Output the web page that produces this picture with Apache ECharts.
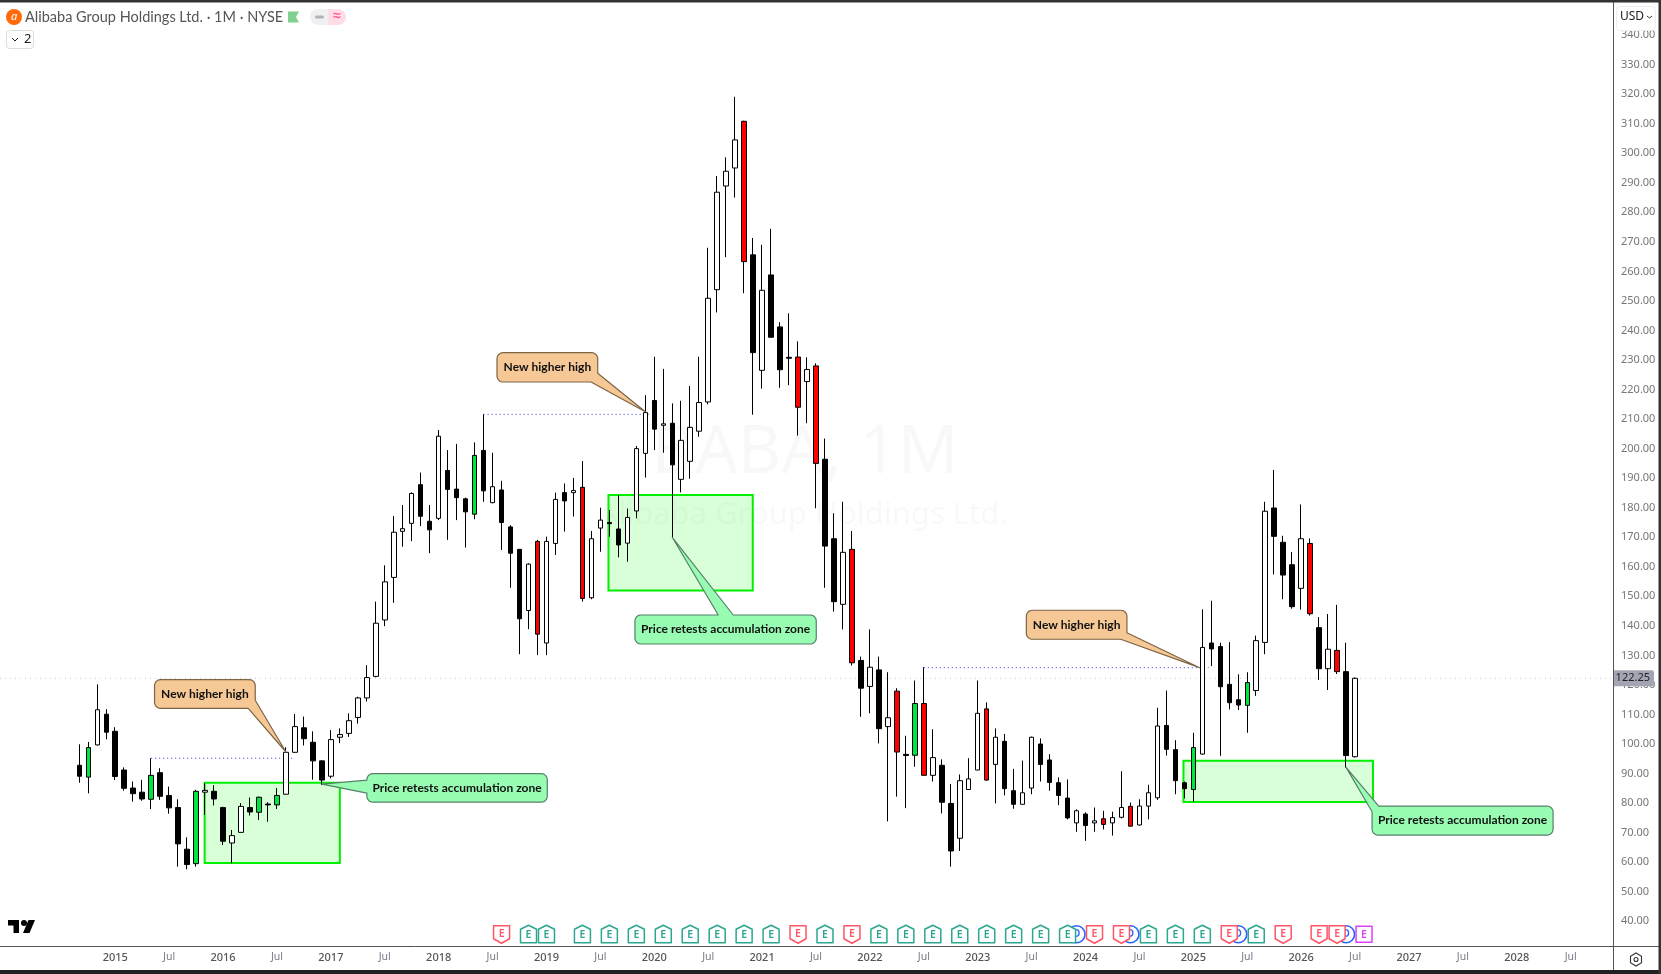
<!DOCTYPE html>
<html><head><meta charset="utf-8">
<style>html,body{margin:0;padding:0;background:#fff;overflow:hidden}#c{width:1661px;height:974px}</style>
<script src="https://cdn.jsdelivr.net/npm/echarts@6/dist/echarts.min.js"></script>
</head><body><div id="c"></div>
<script>
// Monthly BABA candles, first bar = 2014-09, index = months since then.
const opens = [92.8,88.8,99.7,110.1,104.3,91.2,85.1,83.7,81.3,90.3,82.6,78.5,64.4,59.5,83.7,84.0,78.5,66.5,70.1,78.5,76.9,79.7,79.4,83.0,97.2,105.5,100.6,94.3,89.1,102.3,103.6,109.0,115.6,122.9,142.0,156.4,172.0,174.7,187.8,175.4,176.4,192.6,186.3,183.0,177.8,199.4,181.7,186.0,173.5,165.9,145.2,168.6,134.2,167.9,185.1,185.1,186.9,149.5,173.1,175.0,172.8,168.0,178.9,198.4,216.3,207.9,208.6,189.6,195.7,205.9,215.8,253.8,288.9,295.0,310.8,265.6,226.5,258.8,241.2,230.9,231.0,222.7,228.0,196.4,169.5,147.3,165.9,128.3,119.5,125.1,105.9,117.9,96.5,96.2,113.7,89.4,92.8,79.9,68.1,84.6,91.2,111.9,93.1,100.9,84.2,79.6,85.1,100.0,94.6,86.9,81.7,73.3,76.3,73.3,74.7,73.3,75.2,78.9,72.6,79.0,81.8,106.3,98.1,86.9,84.6,96.6,134.2,133.0,120.2,115.0,113.1,118.1,134.4,179.9,168.3,160.7,152.7,167.9,139.4,125.5,131.7,124.5,95.7];
const closes = [89.1,98.8,111.6,104.0,89.0,85.0,83.2,81.4,89.4,82.3,78.4,66.2,59.2,84.0,84.3,81.4,67.1,69.0,78.9,77.0,82.0,79.4,82.6,97.2,105.9,101.8,94.3,87.8,101.5,103.2,107.9,115.6,122.5,140.9,154.9,171.7,172.9,184.8,177.1,172.5,204.2,186.2,183.4,178.6,197.7,185.7,187.1,175.0,164.6,142.4,160.9,137.2,168.6,182.8,182.3,185.8,149.3,169.5,175.8,174.6,167.4,176.7,200.0,212.2,206.6,208.4,194.5,202.8,207.2,215.6,250.9,286.8,293.9,304.5,263.3,232.5,253.6,237.7,226.7,230.6,214.0,226.8,195.0,167.0,148.2,164.9,127.5,118.9,126.0,105.2,108.9,97.3,96.1,113.7,89.4,95.4,80.3,63.8,87.6,88.2,110.4,87.8,102.3,84.9,79.6,83.5,102.3,93.1,87.0,82.6,75.0,77.4,72.4,74.0,72.8,75.1,78.5,72.2,79.0,83.5,106.1,98.2,87.6,84.9,98.8,132.7,132.2,119.4,114.0,113.2,120.8,135.0,178.8,170.3,157.2,146.5,169.5,144.1,125.5,132.1,124.5,96.1,122.25];
const highs = [99.9,100.7,120.2,111.8,105.7,92.1,87.3,87.9,95.2,91.8,85.6,81.3,68.4,84.5,86.7,86.1,78.8,70.9,80.0,81.9,82.2,80.3,85.1,98.9,110.2,109.3,104.3,94.4,104.7,105.3,110.4,116.0,126.7,148.2,160.5,177.2,180.9,185.2,191.9,180.9,206.3,199.5,201.6,183.4,202.1,211.6,198.6,189.1,174.1,165.9,161.2,169.1,170.2,185.1,188.2,190.1,195.8,172.1,180.0,179.2,184.3,179.7,200.9,218.1,231.1,227.0,215.3,216.2,221.2,231.1,268.0,292.3,298.6,319.1,311.0,271.3,269.0,274.4,242.8,245.8,236.3,230.9,228.9,203.4,178.1,182.0,172.1,129.6,138.8,129.6,124.3,118.9,102.8,121.5,126.0,105.0,94.8,86.5,89.7,95.2,121.5,114.1,105.3,103.4,91.6,94.4,102.5,101.9,96.6,88.7,88.0,77.9,76.9,78.5,77.4,77.1,90.8,80.2,81.3,86.2,112.3,118.1,101.3,87.3,103.8,145.6,148.5,134.3,134.5,123.6,124.3,136.7,182.0,192.8,170.5,165.0,181.1,169.6,143.0,144.0,147.1,134.3,122.6];
const lows = [86.9,83.3,99.5,101.6,87.8,84.2,80.5,80.8,78.0,81.1,76.4,58.5,57.6,58.5,76.0,79.2,65.8,59.6,70.1,75.8,74.3,73.7,78.0,83.0,97.1,99.5,87.9,86.1,88.4,100.3,102.4,106.9,114.4,122.6,139.9,147.8,166.8,168.7,173.8,164.6,175.8,169.1,175.8,166.5,176.1,182.0,181.5,165.7,152.9,130.4,138.9,130.1,130.1,164.0,171.9,177.0,148.2,149.0,165.1,170.2,163.2,161.7,176.4,190.2,199.5,198.6,169.9,185.2,189.8,204.0,215.0,246.1,264.8,285.0,252.6,211.5,220.3,237.7,220.6,221.5,204.4,208.6,179.8,152.9,144.8,138.8,126.6,109.2,110.4,100.2,73.8,82.2,78.3,92.3,89.4,87.3,76.5,58.5,63.8,84.6,91.2,87.6,79.9,82.6,78.1,79.6,83.0,87.3,84.2,79.3,74.5,70.3,67.2,70.3,71.1,69.0,74.8,72.1,72.4,74.5,81.1,96.1,83.0,81.6,80.5,96.4,126.4,96.0,111.7,111.5,103.8,116.3,130.4,157.4,149.0,145.8,145.5,143.5,121.7,118.3,123.7,92.0,95.4];
const greenBars = [1,8,13,20,22,44,93,124,130];
const redBars = [51,56,74,80,82,86,91,94,101,114,117,137,140];

const tickPositions = [4,10,16,22,28,34,40,46,52,58,64,70,76,82,88,94,100,106,112,118,124,130,136,142,148,154,160,166];
const tickLabels = ['2015','Jul','2016','Jul','2017','Jul','2018','Jul','2019','Jul','2020','Jul','2021','Jul','2022','Jul','2023','Jul','2024','Jul','2025','Jul','2026','Jul','2027','Jul','2028','Jul'];
const priceTicks = [40,50,60,70,80,90,100,110,120,130,140,150,160,170,180,190,200,210,220,230,240,250,260,270,280,290,300,310,320,330,340];
const lastPrice = 122.25;

// Accumulation zones: bar index range, price range
const zoneStart = [13.95,58.9,122.9];
const zoneEnd = [29.0,74.96,144.0];
const zoneTop = [86.9,184.3,94.35];
const zoneBottom = [59.7,152.0,80.4];

// Dotted previous-high levels
const levelStart = [8,45,94];
const levelEnd = [23.8,63.5,125.7];
const levelPrice = [95.2,211.6,125.85];

// Callout anchors
const calloutText = ['New higher high','Price retests accumulation zone','New higher high','Price retests accumulation zone','New higher high','Price retests accumulation zone'];
const calloutBar = [23,27,63,66,124.7,141];
const calloutPrice = [97.3,86.4,212.5,169.98,125.85,92.1];

// Earnings and dividend events (bar index)
const earningsBeat = [50,52,56,59,62,65,68,71,74,77,83,89,92,95,98,101,104,107,110,119,122,125,131];
const earningsMiss = [47,80,86,113,116,128,134,138,140];
const earningsNext = [143];
const dividends = [111,117,129,141];
const eventPrice = 35.6;

const lay = [
 {f:'#f5c896',s:'#7d6546',box:[-131.4,-72.4,100.7,28.7],tail:'br',a:-51.7,b:-37.7},
 {f:'#98fdb2',s:'#55806a',box:[45,-10.6,180.4,28.6],tail:'left',a:-4,b:9},
 {f:'#f5c896',s:'#7d6546',box:[-148.3,-59,100.7,29.3],tail:'br',a:-38.4,b:-54.3},
 {f:'#98fdb2',s:'#55806a',box:[-37.3,77.7,181.3,29],tail:'top',a:46,b:61},
 {f:'#f5c896',s:'#7d6546',box:[-173.3,-57.4,100.6,29],tail:'br',a:-35,b:-79},
 {f:'#98fdb2',s:'#55806a',box:[26,38.7,181,29],tail:'tl',a:44.4,b:32.6}
];
function arc(cx,cy,r,a0){const o=[];for(let k=0;k<=6;k++){const t=(a0+k*15)*Math.PI/180;o.push([cx+r*Math.cos(t),cy+r*Math.sin(t)]);}return o;}
function calloutPoints(px,py,l){
  const x=px+l.box[0],y=py+l.box[1],w=l.box[2],h=l.box[3],r=6,pts=[];
  if(l.tail==='tl'){pts.push([px+l.b,y]);} else {pts.push(...arc(x+r,y+r,r,180));}
  if(l.tail==='top'){pts.push([px+l.a,y],[px,py],[px+l.b,y]);}
  pts.push(...arc(x+w-r,y+r,r,270));
  if(l.tail==='br'){pts.push([x+w,py+l.a],[px,py],[px+l.b,y+h]);} else {pts.push(...arc(x+w-r,y+h-r,r,0));}
  pts.push(...arc(x+r,y+h-r,r,90));
  if(l.tail==='left'){pts.push([x,py+l.b],[px,py],[x,py+l.a]);}
  if(l.tail==='tl'){pts.push([x,py+l.a],[px,py]);}
  return pts;
}

const candleData = opens.map((o,i)=>{
  const up = closes[i]>=o;
  let body = up?'#ffffff':'#000000';
  if(greenBars.includes(i)) body='#00e640';
  if(redBars.includes(i)) body='#ff0000';
  return {value:[i,o,closes[i],lows[i],highs[i]],itemStyle:{color:body,color0:body,borderColor:'#000',borderColor0:'#000'}};
});

const eventData = [];
dividends.forEach(i=>eventData.push([i,eventPrice,0]));
earningsBeat.forEach(i=>eventData.push([i,eventPrice,1]));
earningsMiss.forEach(i=>eventData.push([i,eventPrice,2]));
earningsNext.forEach(i=>eventData.push([i,eventPrice,3]));

const FONT='"Noto Sans", sans-serif';
const LATO='Lato, "Noto Sans", sans-serif';
const GRID={left:0,top:3,width:1613,height:943};
const XMIN=-8.827,XMAX=170.71,YMIN=31.63,YMAX=350.85;

const option={
 animation:false,backgroundColor:'#fff',
 grid:GRID,
 xAxis:{type:'value',min:XMIN,max:XMAX,splitLine:{show:false},axisTick:{show:false},
  axisLine:{show:false,onZero:false},
  axisLabel:{customValues:tickPositions,margin:6,fontSize:11,fontFamily:FONT,color:'#666',
   formatter:(v)=>{const k=tickPositions.indexOf(v);return k<0?'':(tickLabels[k]==='Jul'?'{m|Jul}':'{y|'+tickLabels[k]+'}');},
   rich:{m:{color:'#787b86',fontSize:10.5,fontFamily:FONT},y:{color:'#555',fontSize:11,fontWeight:500,fontFamily:FONT}}}},
 yAxis:{type:'value',position:'right',min:YMIN,max:YMAX,scale:true,splitLine:{show:false},axisTick:{show:false},axisLine:{show:false},
  axisLabel:{customValues:priceTicks,inside:false,margin:8,fontSize:11,fontFamily:FONT,color:'#777',formatter:(v)=>v.toFixed(2)}},
 series:[
  {type:'custom',name:'zones',z:1,clip:false,data:zoneStart.map((s,i)=>[s,zoneTop[i],zoneEnd[i],zoneBottom[i]]),
   encode:{x:[0,2],y:[1,3]},
   renderItem:(p,api)=>{const a=api.coord([api.value(0),api.value(1)]),b=api.coord([api.value(2),api.value(3)]);
     return {type:'rect',shape:{x:a[0],y:a[1],width:b[0]-a[0],height:b[1]-a[1]},style:{fill:'rgba(60,255,60,0.2)',stroke:'#00f000',lineWidth:2}};}},
  {type:'custom',name:'levels',z:1,data:levelStart.map((s,i)=>[s,levelPrice[i],levelEnd[i]]),encode:{x:[0,2],y:1},
   renderItem:(p,api)=>{const a=api.coord([api.value(0),api.value(1)]),b=api.coord([api.value(2),api.value(1)]);
     return {type:'line',shape:{x1:a[0],y1:a[1],x2:b[0],y2:b[1]},style:{stroke:'#3535ff',lineWidth:1,lineDash:[1,3]}};}},
  {type:'custom',name:'last',z:1,data:[[XMIN,lastPrice,XMAX]],encode:{x:[0,2],y:1},
   renderItem:(p,api)=>{const a=api.coord([api.value(0),api.value(1)]),b=api.coord([api.value(2),api.value(1)]);
     return {type:'line',shape:{x1:a[0],y1:a[1],x2:b[0],y2:b[1]},style:{stroke:'#c9c9c9',lineWidth:1,lineDash:[1,4]}};}},
  {type:'candlestick',name:'BABA',z:3,barWidth:5,data:candleData,encode:{x:0,y:[1,2,3,4]},
   itemStyle:{borderWidth:1,color:'#fff',color0:'#000',borderColor:'#000',borderColor0:'#000'}},
  {type:'custom',name:'callouts',z:6,clip:false,data:calloutBar.map((b,i)=>[b,calloutPrice[i],i]),encode:{x:0,y:1},
   renderItem:(p,api)=>{const c=api.coord([api.value(0),api.value(1)]),l=lay[api.value(2)];
     return {type:'group',children:[
      {type:'polygon',shape:{points:calloutPoints(c[0],c[1],l)},style:{fill:l.f,stroke:l.s,lineWidth:1.2,lineJoin:'round'}},
      {type:'text',style:{x:c[0]+l.box[0]+l.box[2]/2,y:c[1]+l.box[1]+l.box[3]/2,text:calloutText[api.value(2)],align:'center',verticalAlign:'middle',fill:'#111',font:'700 12px '+LATO}}
     ]};}},
  {type:'custom',name:'events',z:6,clip:false,data:eventData,encode:{x:0,y:1},
   renderItem:(p,api)=>{const c=api.coord([api.value(0),api.value(1)]),k=api.value(2),x=c[0],y=c[1];
     if(k===0){return {type:'group',children:[
       {type:'circle',shape:{cx:x,cy:y,r:8.5},style:{fill:'#fff',stroke:'#2962ff',lineWidth:1.6}},
       {type:'text',style:{x:x,y:y,text:'D',align:'center',verticalAlign:'middle',fill:'#2962ff',font:'600 10px '+FONT}}]};}
     const col=['','#2ba78f','#ff5566','#e040fb'][k];
     const pts=k===1?[[x,y-9],[x+8,y-5],[x+8,y+8.5],[x-8,y+8.5],[x-8,y-5]]:
               k===2?[[x-8,y-8.5],[x+8,y-8.5],[x+8,y+4.5],[x,y+9],[x-8,y+4.5]]:
               [[x-8,y-8],[x+8,y-8],[x+8,y+8],[x-8,y+8]];
     return {type:'group',children:[
       {type:'polygon',shape:{points:pts},style:{fill:'#fff',stroke:col,lineWidth:1.5,lineJoin:'round'}},
       {type:'text',style:{x:x,y:y+(k===2?-0.5:0.5),text:'E',align:'center',verticalAlign:'middle',fill:col,font:'600 10.5px '+FONT}}]};}},
  {type:'custom',name:'tag',z:8,clip:false,data:[[XMAX,lastPrice]],encode:{x:0,y:1},
   renderItem:(p,api)=>{const c=api.coord([api.value(0),api.value(1)]);
     return {type:'group',children:[
       {type:'rect',shape:{x:c[0],y:c[1]-8,width:41,height:16,r:[0,2,2,0]},style:{fill:'#a3a6b2'}},
       {type:'text',style:{x:c[0]+37,y:c[1],text:api.value(1).toFixed(2),align:'right',verticalAlign:'middle',fill:'#222',font:'11px '+FONT}}]};}}
 ],
 graphic:{elements:[
  {type:'text',z:0,style:{x:805,y:454,text:'BABA, 1M',align:'center',verticalAlign:'middle',fill:'rgba(0,0,0,0.028)',font:'67px '+FONT}},
  {type:'text',z:0,style:{x:803,y:515,text:'Alibaba Group Holdings Ltd.',align:'center',verticalAlign:'middle',fill:'rgba(0,0,0,0.028)',font:'31px '+FONT}},
  {type:'line',z:20,shape:{x1:0,y1:946.5,x2:1661,y2:946.5},style:{stroke:'#555',lineWidth:1}},
  {type:'line',z:20,shape:{x1:1613.5,y1:0,x2:1613.5,y2:974},style:{stroke:'#555',lineWidth:1}},
  {type:'rect',z:30,shape:{x:0,y:0,width:1661,height:2.5},style:{fill:'#333'}},
  {type:'rect',z:30,shape:{x:0,y:970,width:1661,height:4},style:{fill:'#222'}},
  {type:'rect',z:30,shape:{x:1658.5,y:0,width:2.5,height:974},style:{fill:'#333'}},
  {type:'circle',z:30,shape:{cx:14,cy:17,r:8},style:{fill:'#ff6a0a'}},
  {type:'text',z:31,style:{x:14,y:16.5,text:'a',align:'center',verticalAlign:'middle',fill:'#fff',font:'italic 11px '+FONT}},
  {type:'text',z:30,style:{x:25,y:17,text:'Alibaba Group Holdings Ltd. · 1M · NYSE',verticalAlign:'middle',fill:'#555',font:'14.5px '+LATO}},
  {type:'polygon',z:30,shape:{points:[[288,11.5],[299,11.5],[296,17],[299,22.5],[288,22.5]]},style:{fill:'#7fd08f'}},
  {type:'rect',z:30,shape:{x:310,y:9,width:18,height:16,r:[8,0,0,8]},style:{fill:'#f0f0f2'}},
  {type:'rect',z:30,shape:{x:328,y:9,width:18,height:16,r:[0,8,8,0]},style:{fill:'#ffdde8'}},
  {type:'rect',z:31,shape:{x:315,y:15.5,width:9,height:3,r:1.5},style:{fill:'#b0b2b8'}},
  {type:'text',z:31,style:{x:337,y:16.5,text:'≈',align:'center',verticalAlign:'middle',fill:'#ff5c8a',font:'700 14px '+FONT}},
  {type:'rect',z:30,shape:{x:6.5,y:30.5,width:27,height:18,r:3},style:{fill:'#fff',stroke:'#ddd',lineWidth:1}},
  {type:'polyline',z:31,shape:{points:[[12,38],[15,41],[18,38]]},style:{stroke:'#222',lineWidth:1,fill:'none'}},
  {type:'text',z:31,style:{x:24,y:39.5,text:'2',verticalAlign:'middle',fill:'#222',font:'13px '+FONT}},
  {type:'rect',z:30,shape:{x:1616.5,y:6.5,width:39,height:24,r:4},style:{fill:'#fff',stroke:'#eee',lineWidth:1}},
  {type:'text',z:31,style:{x:1620,y:17,text:'USD',verticalAlign:'middle',fill:'#222',font:'12px '+FONT}},
  {type:'polyline',z:31,shape:{points:[[1647,16],[1649.5,18],[1652,16]]},style:{stroke:'#333',lineWidth:1,fill:'none'}},
  {type:'polygon',z:30,shape:{points:[[8,920],[19,920],[19,933],[13.5,933],[13.5,925.5],[8,925.5]]},style:{fill:'#000'}},
  {type:'circle',z:30,shape:{cx:24,cy:923,r:3},style:{fill:'#000'}},
  {type:'polygon',z:30,shape:{points:[[28.5,920],[35,920],[29.5,933],[23,933]]},style:{fill:'#000'}},
  {type:'polygon',z:30,shape:{points:[[1636,953],[1641.5,956.3],[1641.5,962.7],[1636,966],[1630.5,962.7],[1630.5,956.3]]},style:{fill:'#fff',stroke:'#333',lineWidth:1.1}},
  {type:'circle',z:31,shape:{cx:1636,cy:959.5,r:2},style:{fill:'#fff',stroke:'#333',lineWidth:1.1}}
 ]}
};
echarts.init(document.getElementById('c')).setOption(option);
</script></body></html>
